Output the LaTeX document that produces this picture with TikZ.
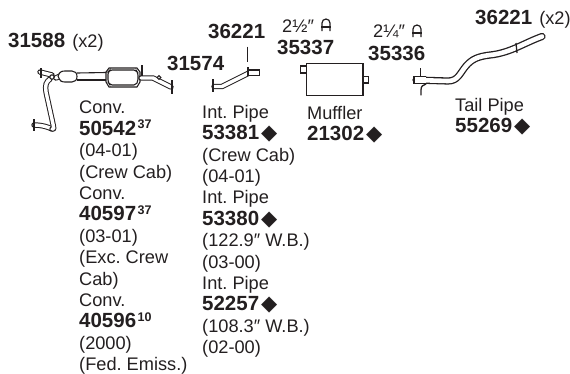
\documentclass[tikz,border=0pt]{standalone}
\usepackage{fontspec}
\setmainfont{Liberation Sans}
\newfontfamily\symfont{DejaVu Sans}
\usepackage{xcolor}
\usetikzlibrary{arrows.meta,calc,positioning}
\definecolor{ink}{HTML}{231F20}
\frenchspacing
\newcommand{\partno}[1]{{\fontsize{20.5}{21.4}\selectfont\bfseries #1}}
\newcommand{\partsup}[1]{\kern1.5pt\raisebox{6.5pt}{\fontsize{12.5}{12.5}\selectfont\bfseries #1}}
\newcommand{\dmd}{\kern2pt\smash{\fontsize{21}{21}\selectfont\symfont ◆}}
\tikzset{plain/.style={anchor=base west,inner sep=0pt,text=ink,font=\fontsize{18.2}{21.4}\selectfont},
block/.style={anchor=north west,inner sep=0pt,text=ink,align=left,font=\fontsize{18.2}{21.4}\selectfont},
pipe/.style={draw=ink,line width=1pt,double=white,double distance=3.4pt,line cap=round,line join=round},
widepipe/.style={pipe,line width=1.3pt,double distance=4.6pt},
wire/.style={draw=ink,line width=1.1pt},
flange/.style={draw=ink,line width=1.3pt},
clampmark/.style={draw=ink,line width=1.2pt}}
\newcommand{\clampicon}[1]{%
\draw[clampmark] ($(#1)+(0,0)$) -- ++(0,-8) arc (180:360:4) -- ++(0,8);
\draw[clampmark] ($(#1)+(-1,-4)$) -- ++(10,0);}
\begin{document}
\begin{tikzpicture}[x=1pt,y=-1pt]
\useasboundingbox (0,0) rectangle (570,373);
% labels
\node[plain] (clampa) at (8,47) {\partno{31588}\kern2pt{} (x2)};
\node[plain] (clampb) at (167,70) {\partno{31574}};
\node[plain] (hangera) at (208,38) {\partno{36221}};
\node[plain] (sizea) at (282,32) {2½″};
\node[plain] (clampc) at (277,54) {\partno{35337}};
\node[plain] (sizeb) at (373,37) {2¼″};
\node[plain] (clampd) at (368,60) {\partno{35336}};
\node[plain] (hangerb) at (475,24) {\partno{36221}\kern2pt{} (x2)};
\node[block] (conv) at (79,101) {Conv.\\\partno{50542}\partsup{37}\\(04-01)\\(Crew Cab)\\Conv.\\\partno{40597}\partsup{37}\\(03-01)\\(Exc. Crew\\Cab)\\Conv.\\\partno{40596}\partsup{10}\\(2000)\\(Fed. Emiss.)};
\node[block] (intpipe) at (202,105) {Int. Pipe\\\partno{53381}\dmd\\(Crew Cab)\\(04-01)\\Int. Pipe\\\partno{53380}\dmd\\(122.9″ W.B.)\\(03-00)\\Int. Pipe\\\partno{52257}\dmd\\(108.3″ W.B.)\\(02-00)};
\node[block] (muffler) at (307,106) {Muffler\\\partno{21302}\dmd};
\node[block] (tailpipe) at (455,98) {Tail Pipe\\\partno{55269}\dmd};
% clamp icons
\coordinate (icona) at (322,31);
\coordinate (iconb) at (413,37);
\clampicon{icona}
\clampicon{iconb}
% converter
\draw[pipe] (52,129) .. controls (48,127) and (42,125) .. (34,125);
\draw[pipe] (50,79) .. controls (46,82) and (45,85) .. (46,92) -- (53,124) .. controls (54,129) and (54,130) .. (52,129);
\draw[pipe] (40,72) -- (52,75);
\draw[flange] (41,68) -- (41,78);
\draw[flange] (34,119) -- (34,131);
\draw[wire,fill=white] (52,77) circle (2.2);
\draw[pipe] (56,78) -- (60,76);
\draw[wire,fill=white] (58,76) .. controls (60,71) and (62,71) .. (66,71) -- (72,71) .. controls (75,71) and (77,73) .. (77,76.5) .. controls (77,80) and (75,82) .. (72,82) -- (66,82) .. controls (62,82) and (60,82) .. (58,76) -- cycle;
\draw[wire] (77,73) -- (106,72.5);
\draw[wire] (77,80) -- (106,80);
\draw[wire,fill=white] (106,72) -- (109,68) -- (137,68) -- (140,72) -- (140,82) -- (137,87) -- (109,87) -- (106,82) -- cycle;
\draw[wire,rounded corners=2pt] (108,72) -- (110,70) -- (136,70) -- (138,73) -- (138,81) -- (136,85) -- (110,85) -- (108,82) -- cycle;
\draw[pipe] (141,78) -- (153,78) -- (171,87);
\draw[flange] (142,65) -- (142,76);
\draw[flange] (172,80) -- (172,94);
\draw[wire,fill=white] (159,77.5) circle (1.8);
% intermediate pipe
\draw[flange] (247.5,46.5) -- (247.5,62);
\draw[pipe] (214,86.5) -- (222,86.5) -- (249,73);
\draw[wire,fill=white] (248,70) rectangle (259.5,75.5);
\draw[flange] (248,67) -- (248,74);
\draw[flange] (213,79) -- (213,92);
% muffler
\draw[wire] (300.5,66) rectangle (306.5,73);
\draw[wire] (363,76.5) rectangle (368.5,83);
\draw[wire] (306.5,63.5) rectangle (363,95.3);
% tail pipe
\draw[flange] (420.5,68) -- (420.5,77);
\draw[flange,line cap=round] (421,95) -- (421,90) .. controls (421,86) and (423,85) .. (426,84);
\draw[widepipe] (416,80) -- (448,81) .. controls (458,81) and (460,73) .. (466,66) .. controls (472,59) and (478,56.5) .. (490,55) .. controls (510,53) and (524,43) .. (542,36.5);
\draw[wire,fill=white,line width=1.2pt] (426,76.7) -- (414,76.7) -- (414,83.3) -- (426,83.3);
\draw[flange] (516,43) -- (517,53);
\end{tikzpicture}
\end{document}
